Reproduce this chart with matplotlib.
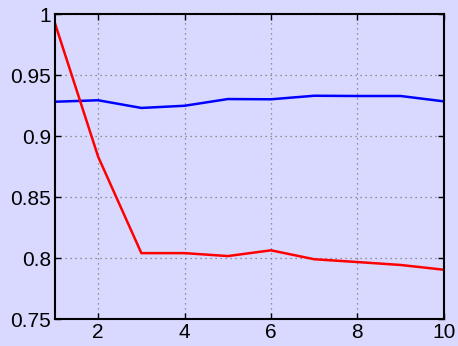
import matplotlib
matplotlib.use("Agg")
import matplotlib.pyplot as plt

x = [1, 2, 3, 4, 5, 6, 7, 8, 9, 10]
blue = [0.9281, 0.9293, 0.9230, 0.9248, 0.9303, 0.9301, 0.9330, 0.9328, 0.9328, 0.9284]
red = [0.9924, 0.8830, 0.8040, 0.8040, 0.8016, 0.8063, 0.7990, 0.7967, 0.7943, 0.7904]
xticks = [2, 4, 6, 8, 10]
yticks = [0.75, 0.8, 0.85, 0.9, 0.95, 1]
yticklabels = ["0.75", "0.8", "0.85", "0.9", "0.95", "1"]

bg = "#d9d9ff"
plt.rcParams['font.family'] = ['Liberation Sans', 'DejaVu Sans']
fig = plt.figure(figsize=(4.58, 3.46), dpi=100, facecolor=bg)
ax = fig.add_axes([0.120, 0.078, 0.849, 0.8815], facecolor=bg)
ax.plot(x, blue, color="#0000ff", lw=1.8)
ax.plot(x, red, color="#ff0000", lw=1.8)
ax.set_xlim(1, 10)
ax.set_ylim(0.75, 1)
ax.set_xticks(xticks)
ax.set_xticklabels([str(t) for t in xticks])
ax.set_yticks(yticks)
ax.set_yticklabels(yticklabels)
ax.tick_params(direction="in", top=True, right=True, length=4, width=1, labelsize=15, pad=3)
ax.grid(True, linestyle=(0, (1, 3)), color="#777777", lw=0.9)
for s in ax.spines.values():
    s.set_linewidth(1.5)
    s.set_color("black")
fig.savefig("out.png", dpi=100, facecolor=bg)
